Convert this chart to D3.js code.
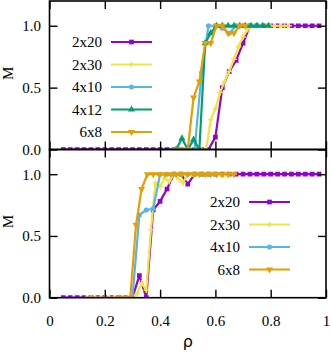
<!DOCTYPE html>
<html>
<head>
<meta charset="utf-8">
<script src="https://cdn.jsdelivr.net/npm/d3@7"></script>
<style>
  body { margin: 0; background: #fff; }
  svg { display: block; }
</style>
</head>
<body>
<div id="chart"></div>
<script>
// lattice sizes, in legend order
var labelsTop = ["2x20", "2x30", "4x10", "4x12", "6x8"];
var labelsBot = ["2x20", "2x30", "4x10", "6x8"];

// 2x20 (same rho grid in both panels)
var rho2x20 = [0.05,0.075,0.1,0.125,0.15,0.175,0.2,0.225,0.25,0.275,0.3,0.325,0.35,0.375,0.4,0.425,0.45,0.475,0.5,0.525,
               0.55,0.575,0.6,0.625,0.65,0.675,0.7,0.725,0.75,0.775,0.8,0.825,0.85,0.875,0.9,0.925,0.95,0.975];
var mTop2x20 = [0,0,0,0,0,0,0,0,0,0,0,0,0,0,0,0,0,0,0,0,0,0,0.1,0.5,0.63,0.72,0.86,1,1,1,1,1,1,1,1,1,1,1];
var mBot2x20 = [0,0,0,0,0,0,0,0,0,0,0,0.18,0,0.71,0.78,0.88,1,1,0.92,1,1,1,1,1,1,1,1,1,1,1,1,1,1,1,1,1,1,1];

// 2x30
var rhoTop2x30 = [0.533,0.55,0.567,0.583,0.6,0.617,0.633,0.65,0.667,0.683,0.7,0.717,0.733,0.75,0.767,0.783,0.8,0.817,0.833,0.85,0.867];
var mTop2x30 = [0,0,0,0.24,0.33,0.46,0.55,0.63,0.73,0.83,0.91,0.97,1,1,1,1,1,1,1,1,1];
var rhoBot2x30 = [0.133,0.15,0.167,0.183,0.2,0.217,0.233,0.25,0.267,0.283,0.3,0.317,0.333,0.35,0.367,0.383,0.4,0.417,0.433,0.45,
                  0.467,0.483,0.5,0.517,0.533,0.55,0.567,0.583,0.6,0.617,0.633,0.65,0.667];
var mBot2x30 = [0,0,0,0,0,0,0,0,0,0,0,0.03,0.12,0.06,0.55,0.93,0.9,0.97,0.94,1,0.96,0.93,1,1,1,1,1,1,1,1,1,1,1];

// 4x10
var rhoTop4x10 = [0.45,0.475,0.5,0.525,0.55,0.575,0.6,0.625,0.65,0.675,0.7,0.725,0.75];
var mTop4x10 = [0,0,0,0,0.62,1,1,0.98,0.94,1,1,1,1];
var rhoBot4x10 = [0.25,0.275,0.3,0.325,0.35,0.375,0.4,0.425,0.45,0.475,0.5,0.525,0.55,0.575,0.6];
var mBot4x10 = [0,0,0,0.67,0.71,0.72,1,1,1,1,1,1,1,1,1];

// 4x12 (top only)
var rhoTop4x12 = [0.458,0.479,0.5,0.521,0.542,0.563,0.583,0.604,0.625,0.646,0.667,0.688,0.708,0.729,0.75,0.771,0.792];
var mTop4x12 = [0,0.09,0,0.08,0,0.86,0.94,1,1,1,1,1,1,1,1,1,1];

// 6x8
var rhoTop6x8 = [0.458,0.479,0.5,0.521,0.542,0.563,0.583,0.604,0.625,0.646,0.667,0.688,0.708];
var mTop6x8 = [0,0,0,0.42,0.55,0.86,0.86,1,1,0.94,0.94,1,1];
var rhoBot6x8 = [0.25,0.271,0.292,0.313,0.333,0.354,0.375,0.396,0.417,0.438,0.458,0.479,0.5,0.521,0.542,0.563,0.583,0.604,0.625,0.646,0.667];
var mBot6x8 = [0,0,0,0.59,0.88,1,1,1,1,1,1,1,1,1,1,1,1,1,1,1,1];

var xTicks = [0, 0.2, 0.4, 0.6, 0.8, 1];
var yTicks = [0, 0.5, 1];

var colors = {"2x20": "#9400d3", "2x30": "#f0e442", "4x10": "#56b4e9", "4x12": "#009e73", "6x8": "#e69f00"};
var shapes = {"2x20": "square", "2x30": "plus", "4x10": "circle", "4x12": "up", "6x8": "down"};

var width = 332, height = 353,
    left = 49.5, right = 326,
    serif = "'Liberation Serif', 'Times New Roman', serif";

var svg = d3.select("#chart").append("svg")
    .attr("width", width)
    .attr("height", height);

var x = d3.scaleLinear().domain([0, 1]).range([left, right]);

function pair(r, m) {
    return r.map(function(d, i) { return [d, m[i]]; });
}

function marker(g, kind, color, px, py) {
    if (kind == "plus") {
        g.append("path")
            .attr("d", "M" + (px - 2.8) + "," + py + "H" + (px + 2.8) + "M" + px + "," + (py - 2.8) + "V" + (py + 2.8))
            .attr("stroke", color).attr("stroke-width", 1.5).attr("fill", "none");
        return;
    }
    var sym = d3.symbolSquare, size = 22, rot = 0;
    if (kind == "circle") { sym = d3.symbolCircle; size = 20; }
    if (kind == "up") { sym = d3.symbolTriangle; size = 22; }
    if (kind == "down") { sym = d3.symbolTriangle; size = 22; rot = 180; }
    g.append("path")
        .attr("d", d3.symbol().type(sym).size(size)())
        .attr("transform", "translate(" + px + "," + py + ") rotate(" + rot + ")")
        .attr("fill", color);
}

function panel(top, bottom, series, legend, showX) {
    var y = d3.scaleLinear().domain([0, 1.2]).range([bottom, top]);
    var id = "clip" + Math.round(top);

    svg.append("clipPath").attr("id", id)
        .append("rect")
        .attr("x", left).attr("y", top)
        .attr("width", right - left).attr("height", bottom - top);

    var plot = svg.append("g").attr("clip-path", "url(#" + id + ")");
    var line = d3.line().x(function(d) { return x(d[0]); }).y(function(d) { return y(d[1]); });

    series.forEach(function(s) {
        var c = colors[s.name];
        plot.append("path")
            .datum(s.data)
            .attr("d", line)
            .attr("fill", "none")
            .attr("stroke", c)
            .attr("stroke-width", 2.2)
            .attr("stroke-linejoin", "round");
        s.data.forEach(function(d) {
            marker(plot, shapes[s.name], c, x(d[0]), y(d[1]));
        });
    });

    // inward ticks on all four sides
    var tk = function(a) { a.selectAll(".domain").remove(); a.selectAll("line").attr("stroke-width", 1.4); };
    svg.append("g").attr("transform", "translate(0," + bottom + ")")
        .call(d3.axisBottom(x).tickValues(xTicks).tickSizeInner(-8).tickSizeOuter(0).tickPadding(17.5)
            .tickFormat(showX ? function(d) { return d === 0 ? "0" : d === 1 ? "1" : d3.format(".1f")(d); } : ""))
        .call(tk);
    svg.append("g").attr("transform", "translate(0," + top + ")")
        .call(d3.axisTop(x).tickValues(xTicks).tickSizeInner(-8).tickSizeOuter(0).tickFormat(""))
        .call(tk);
    svg.append("g").attr("transform", "translate(" + left + ",0)")
        .call(d3.axisLeft(y).tickValues(yTicks).tickSizeInner(-8).tickSizeOuter(0).tickPadding(8.5)
            .tickFormat(d3.format(".1f")))
        .call(tk);
    svg.append("g").attr("transform", "translate(" + right + ",0)")
        .call(d3.axisRight(y).tickValues(yTicks).tickSizeInner(-8).tickSizeOuter(0).tickFormat(""))
        .call(tk);

    svg.append("rect")
        .attr("x", left).attr("y", top)
        .attr("width", right - left).attr("height", bottom - top)
        .attr("fill", "none").attr("stroke", "#000").attr("stroke-width", 1.6);

    svg.append("text")
        .attr("transform", "translate(12.5," + ((top + bottom) / 2 - 2) + ") rotate(-90)")
        .attr("text-anchor", "middle")
        .attr("font-family", serif).attr("font-size", 15)
        .text("M");

    var leg = svg.append("g");
    legend.names.forEach(function(n, i) {
        var ly = legend.y + i * 22.5;
        leg.append("text")
            .attr("x", legend.x).attr("y", ly + 5)
            .attr("text-anchor", "end")
            .attr("font-family", serif).attr("font-size", 15)
            .text(n);
        leg.append("line")
            .attr("x1", legend.x + 9).attr("x2", legend.x + 50)
            .attr("y1", ly).attr("y2", ly)
            .attr("stroke", colors[n]).attr("stroke-width", 2.2);
        marker(leg, shapes[n], colors[n], legend.x + 29.5, ly);
    });
}

panel(1, 149.5, [
    {name: "2x20", data: pair(rho2x20, mTop2x20)},
    {name: "2x30", data: pair(rhoTop2x30, mTop2x30)},
    {name: "4x10", data: pair(rhoTop4x10, mTop4x10)},
    {name: "4x12", data: pair(rhoTop4x12, mTop4x12)},
    {name: "6x8", data: pair(rhoTop6x8, mTop6x8)}
], {names: labelsTop, x: 102, y: 42}, false);

panel(149.5, 297.7, [
    {name: "2x20", data: pair(rho2x20, mBot2x20)},
    {name: "2x30", data: pair(rhoBot2x30, mBot2x30)},
    {name: "4x10", data: pair(rhoBot4x10, mBot4x10)},
    {name: "6x8", data: pair(rhoBot6x8, mBot6x8)}
], {names: labelsBot, x: 240, y: 202}, true);

d3.selectAll(".tick text").attr("font-family", serif).attr("font-size", 15).attr("fill", "#000");

svg.append("text")
    .attr("x", x(0.5)).attr("y", 347)
    .attr("text-anchor", "middle")
    .attr("font-family", "'DejaVu Sans', sans-serif").attr("font-size", 16)
    .text("ρ");
</script>
</body>
</html>
